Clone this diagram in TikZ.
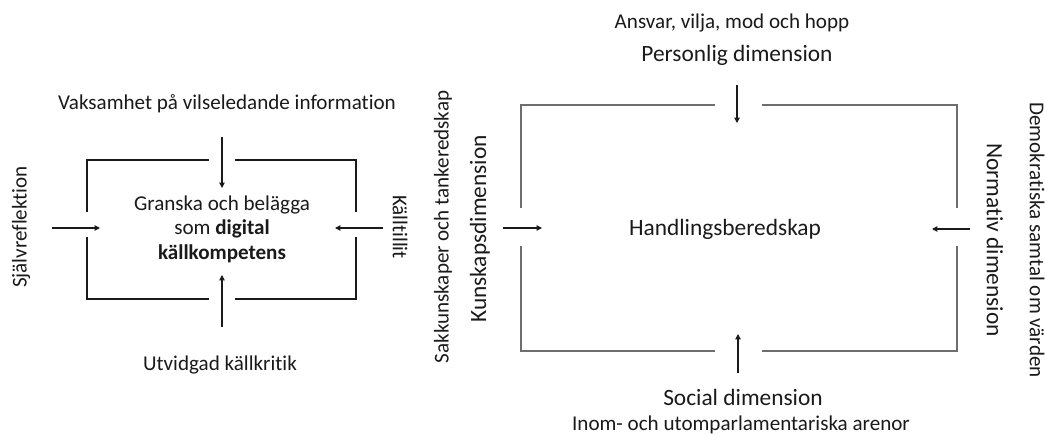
\documentclass[tikz,border=0pt]{standalone}
\usepackage{fontspec}
\setmainfont{Carlito}[Ligatures=NoCommon]
\usetikzlibrary{positioning,arrows.meta,calc}
\definecolor{ink}{HTML}{1A1A1A}
\definecolor{rule}{HTML}{6E6E6E}
\tikzset{
  lbl/.style={inner sep=0pt, align=center, text=ink, font=\fontsize{12}{14}\selectfont},
  big/.style={lbl, font=\fontsize{13.3}{16}\selectfont},
  frame/.style={draw=ink, line width=0.8pt},
  thinframe/.style={draw=rule, line width=0.6pt},
  arr/.style={-{Triangle[length=3pt, width=3pt]}, line width=0.6pt, ink}}

\begin{document}
\begin{tikzpicture}
\useasboundingbox (0,0) rectangle (20.9,8.72);
% left: digital kallkompetens
\node[lbl] (vaks) at (4.54, 6.64) {Vaksamhet på vilseledande information};
\node[lbl] (granska) at (4.44, 4.14) {Granska och belägga\\som \textbf{digital}\\\textbf{källkompetens}};
\node[lbl, rotate=90] (sjalv) at (0.42, 4.18) {Självreflektion};
\node[lbl, rotate=-90] (kall) at (8.00, 4.18) {Källtillit};
\node[lbl] (utvid) at (4.40, 1.42) {Utvidgad källkritik};
\draw[frame] (4.18, 5.52) -| (1.74, 4.48) (1.74, 3.98) |- (4.18, 2.74)
  (4.70, 5.52) -| (7.12, 4.48) (7.12, 3.98) |- (4.70, 2.74);
\coordinate (vt1) at (4.44, 5.98); \coordinate (vt2) at (4.44, 4.96);
\coordinate (vb1) at (4.44, 2.18); \coordinate (vb2) at (4.44, 3.22);
\coordinate (vl1) at (1.04, 4.16); \coordinate (vl2) at (2.00, 4.16);
\coordinate (vr1) at (7.66, 4.16); \coordinate (vr2) at (6.70, 4.16);
\draw[arr] (vt1) -- (vt2); \draw[arr] (vb1) -- (vb2);
\draw[arr] (vl1) -- (vl2); \draw[arr] (vr1) -- (vr2);
% right: handlingsberedskap
\node[lbl] (ansvar) at (14.64, 8.26) {Ansvar, vilja, mod och hopp};
\node[big] (personlig) at (14.74, 7.62) {Personlig dimension};
\node[big] (handling) at (14.50, 4.14) {Handlingsberedskap};
\node[big] (social) at (14.86, 0.77) {Social dimension};
\node[lbl] (inom) at (14.82, 0.23) {Inom- och utomparlamentariska arenor};
\node[lbl, rotate=90] (sakk) at (8.86, 4.18) {Sakkunskaper och tankeredskap};
\node[big, rotate=90] (kunskap) at (9.60, 4.14) {Kunskapsdimension};
\node[big, rotate=-90] (normativ) at (19.90, 3.92) {Normativ dimension};
\node[lbl, rotate=-90] (demokr) at (20.74, 3.92) {Demokratiska samtal om värden};
\draw[thinframe] (14.30, 6.62) -| (10.42, 4.56) (10.42, 3.80) |- (14.30, 1.70)
  (15.24, 6.62) -| (19.14, 4.56) (19.14, 3.80) |- (15.24, 1.70);
\coordinate (ht1) at (14.74, 7.02); \coordinate (ht2) at (14.74, 6.26);
\coordinate (hb1) at (14.76, 1.26); \coordinate (hb2) at (14.76, 2.04);
\coordinate (hl1) at (10.06, 4.16); \coordinate (hl2) at (10.84, 4.16);
\coordinate (hr1) at (19.40, 4.14); \coordinate (hr2) at (18.64, 4.14);
\draw[arr] (ht1) -- (ht2); \draw[arr] (hb1) -- (hb2);
\draw[arr] (hl1) -- (hl2); \draw[arr] (hr1) -- (hr2);
\end{tikzpicture}
\end{document}
